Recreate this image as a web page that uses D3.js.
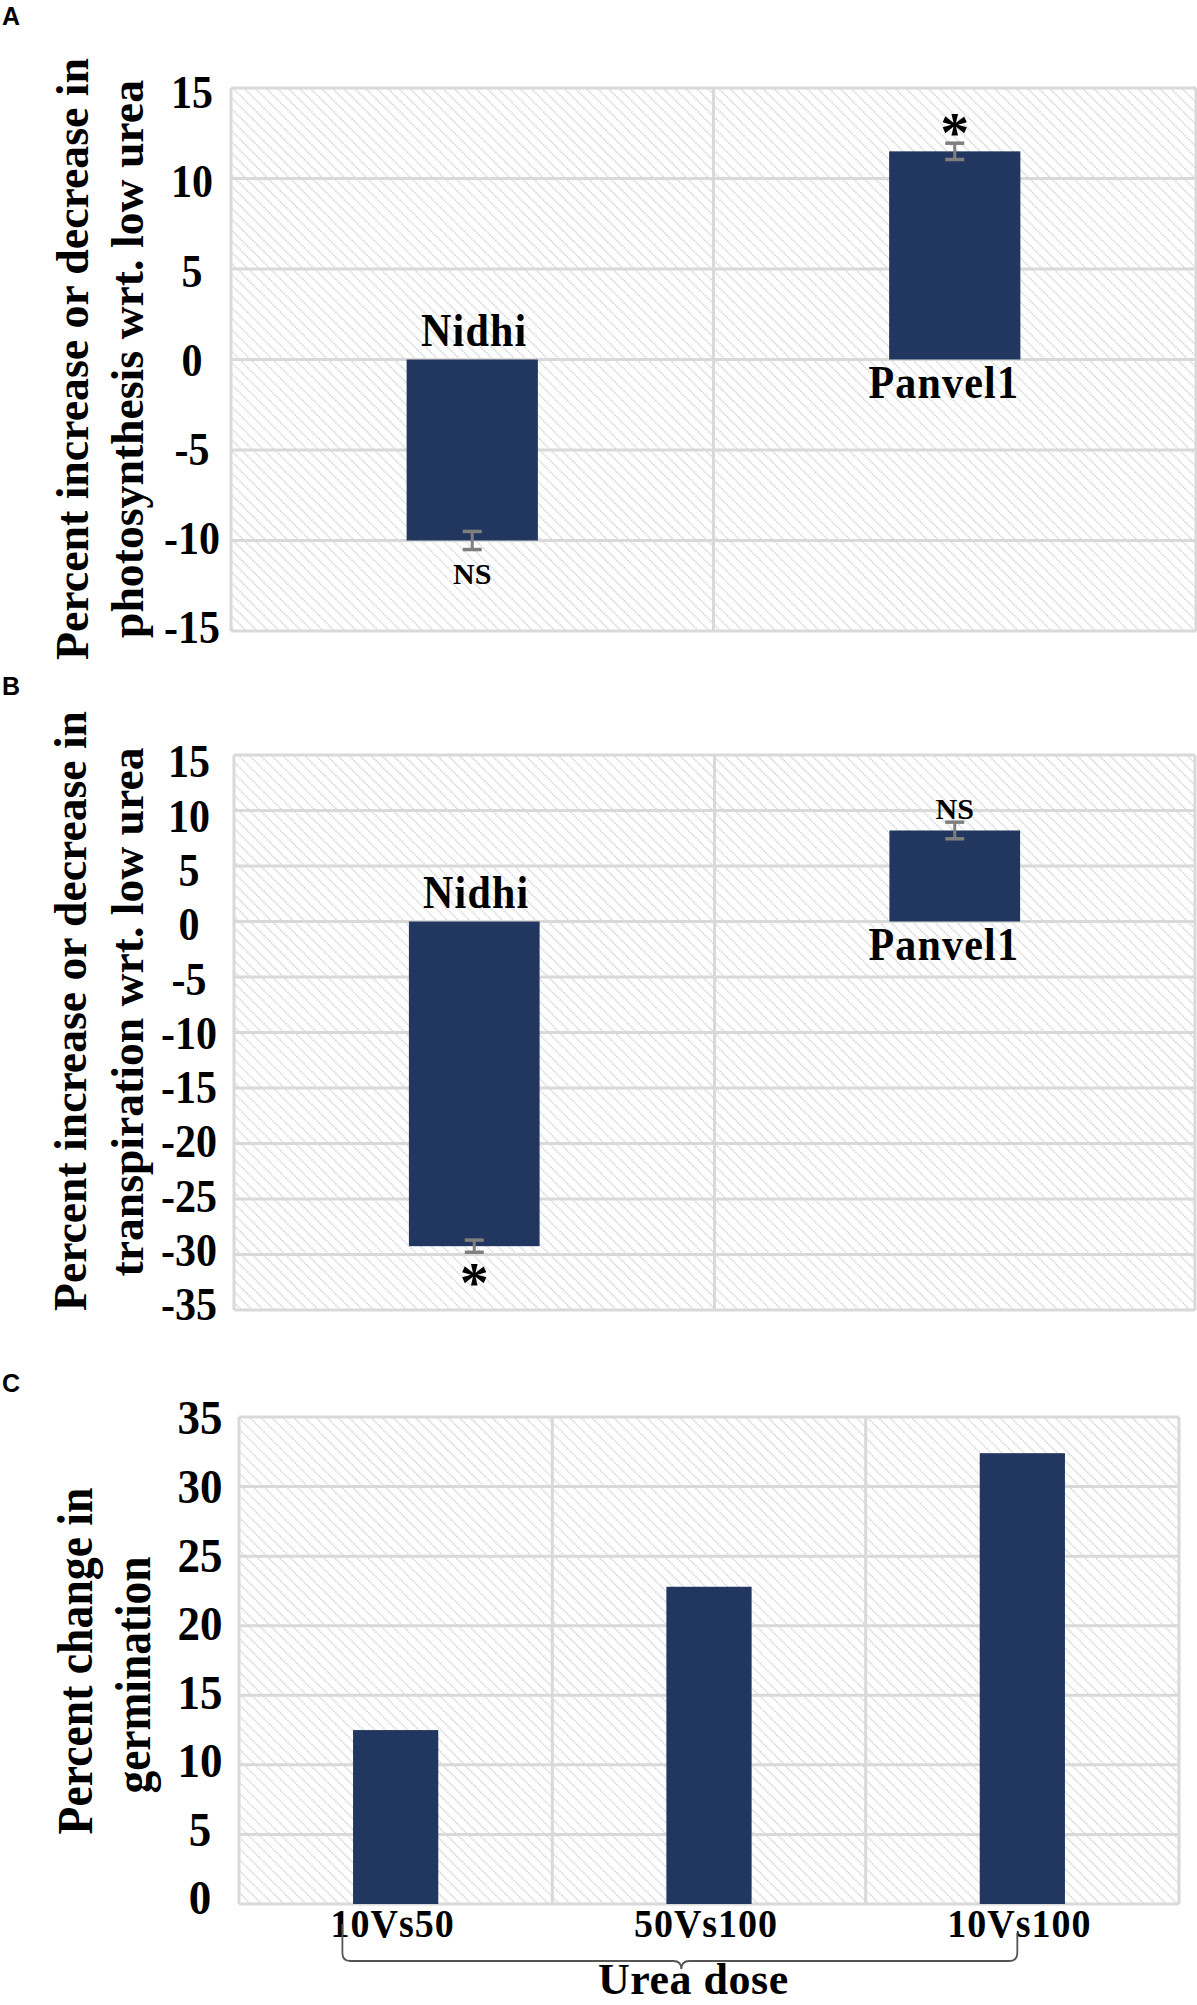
<!DOCTYPE html>
<html>
<head>
<meta charset="utf-8">
<script src="https://cdn.jsdelivr.net/npm/d3@7"></script>
<style>
  html, body { margin: 0; padding: 0; background: #ffffff; }
  svg { display: block; }
</style>
</head>
<body>
<script>
// ---------------- data ----------------
const genotypes = ["Nidhi", "Panvel1"];

const photoValues = [-10.0, 11.5];
const photoErrors = [0.5, 0.45];
const photoSig = ["NS", "*"];
const photoTicks = [15, 10, 5, 0, -5, -10, -15];
const photoTitle = ["Percent increase or decrease in", "photosynthesis wrt. low urea"];

const transValues = [-29.25, 8.2];
const transErrors = [0.55, 0.75];
const transSig = ["*", "NS"];
const transTicks = [15, 10, 5, 0, -5, -10, -15, -20, -25, -30, -35];
const transTitle = ["Percent increase or decrease in", "transpiration wrt. low urea"];

const doseCategories = ["10Vs50", "50Vs100", "10Vs100"];
const germValues = [12.5, 22.8, 32.4];
const germTicks = [0, 5, 10, 15, 20, 25, 30, 35];
const germTitle = ["Percent change in", "germination"];
const germXTitle = "Urea dose";

const panelLetters = ["A", "B", "C"];

// ---------------- styles ----------------
const W = 1197, H = 2005;
const serif = "'Liberation Serif', 'Times New Roman', serif";
const sans = "'Liberation Sans', Arial, sans-serif";
const barColor = "#21375f";
const gridColor = "#d9d9d9";
const errColor = "#7f7f7f";
const vStretch = 1.08;

const svg = d3.select("body").append("svg")
  .attr("width", W).attr("height", H)
  .attr("viewBox", `0 0 ${W} ${H}`);

const defs = svg.append("defs");
const pat = defs.append("pattern")
  .attr("id", "hatch")
  .attr("patternUnits", "userSpaceOnUse")
  .attr("width", 7.8).attr("height", 7.8)
  .attr("patternTransform", "rotate(-45)");
pat.append("rect").attr("width", 7.8).attr("height", 7.8).attr("fill", "#ffffff");
pat.append("line")
  .attr("x1", 1).attr("y1", 0).attr("x2", 1).attr("y2", 7.8)
  .attr("stroke", "#bdbdbd").attr("stroke-width", 1.3)
  .attr("stroke-dasharray", "1.3 1.3");

function drawPanel(opt) {
  const g = svg.append("g");
  const { left, right, top, bottom } = opt;

  const x = d3.scaleBand().domain(opt.categories).range([left, right])
    .paddingInner(0.728).paddingOuter(0.364);
  const step = x.step();
  const y = d3.scaleLinear().domain(opt.domain).range([bottom, top]);
  const yLab = d3.scaleLinear().domain(opt.domain).range([bottom + opt.labOff[1], top + opt.labOff[0]]);

  // background with hatch
  g.append("rect").attr("x", left).attr("y", top)
    .attr("width", right - left).attr("height", bottom - top)
    .attr("fill", "url(#hatch)");

  // horizontal gridlines
  g.selectAll("line.hgrid").data(opt.ticks).enter().append("line")
    .attr("class", "hgrid")
    .attr("x1", left).attr("x2", right)
    .attr("y1", d => y(d)).attr("y2", d => y(d))
    .attr("stroke", gridColor).attr("stroke-width", 3);

  // vertical gridlines at category boundaries
  const bounds = d3.range(opt.categories.length + 1).map(i => left + i * step);
  g.selectAll("line.vgrid").data(bounds).enter().append("line")
    .attr("class", "vgrid")
    .attr("x1", d => d).attr("x2", d => d)
    .attr("y1", top).attr("y2", bottom)
    .attr("stroke", gridColor).attr("stroke-width", 3);

  // tick labels
  g.selectAll("text.tick").data(opt.ticks).enter().append("text")
    .attr("class", "tick")
    .attr("transform", d => `translate(${opt.tickX},${yLab(d) + 0.338 * opt.tickSize * vStretch}) scale(1,${vStretch})`)
    .attr("text-anchor", "middle")
    .attr("font-family", serif).attr("font-weight", "bold")
    .attr("font-size", opt.tickSize)
    .text(d => d);

  // bars
  const data = opt.categories.map((c, i) => ({
    c, v: opt.values[i], e: opt.errors ? opt.errors[i] : null, s: opt.sig ? opt.sig[i] : null
  }));
  g.selectAll("rect.bar").data(data).enter().append("rect")
    .attr("class", "bar")
    .attr("x", d => x(d.c)).attr("width", x.bandwidth())
    .attr("y", d => Math.min(y(0), y(d.v)))
    .attr("height", d => Math.abs(y(d.v) - y(0)))
    .attr("fill", barColor);

  // error bars
  if (opt.errors) {
    const cx = d => x(d.c) + x.bandwidth() / 2;
    const eg = g.selectAll("g.err").data(data).enter().append("g").attr("class", "err");
    eg.append("line")
      .attr("x1", cx).attr("x2", cx)
      .attr("y1", d => y(d.v + d.e)).attr("y2", d => y(d.v - d.e))
      .attr("stroke", errColor).attr("stroke-width", 3);
    [1, -1].forEach(sgn => {
      eg.append("line")
        .attr("x1", d => cx(d) - 9.5).attr("x2", d => cx(d) + 9.5)
        .attr("y1", d => y(d.v + sgn * d.e)).attr("y2", d => y(d.v + sgn * d.e))
        .attr("stroke", errColor).attr("stroke-width", 3.5);
    });
    // significance marks
    g.selectAll("text.sig").data(data).enter().append("text")
      .attr("class", "sig")
      .attr("x", d => cx(d))
      .attr("y", d => {
        const pos = d.v >= 0;
        const tip = pos ? y(d.v + d.e) : y(d.v - d.e);
        if (d.s === "*") return pos ? tip + 9 : tip + 50;
        return pos ? tip - 3 : tip + 34;
      })
      .attr("text-anchor", "middle")
      .attr("font-family", serif)
      .attr("font-weight", "bold")
      .attr("font-size", d => d.s === "*" ? 58 : 30)
      .text(d => d.s);
  }

  // category labels inside plot (panels A and B)
  if (opt.inlineLabels) {
    g.selectAll("text.cat").data(data).enter().append("text")
      .attr("class", "cat")
      .attr("transform", d => {
        const tx = x(d.c) + x.bandwidth() / 2 + (d.v >= 0 ? -11 : 2);
        const ty = d.v >= 0 ? y(0) + 38 : y(0) - 14;
        return `translate(${tx},${ty}) scale(1,${vStretch})`;
      })
      .attr("text-anchor", "middle")
      .attr("font-family", serif).attr("font-weight", "bold")
      .attr("font-size", 42).attr("letter-spacing", 1.2)
      .text(d => d.c);
  } else {
    g.selectAll("text.cat").data(data).enter().append("text")
      .attr("class", "cat")
      .attr("transform", d => `translate(${x(d.c) + x.bandwidth() / 2 - 3},${bottom + 33}) scale(1,${vStretch})`)
      .attr("text-anchor", "middle")
      .attr("font-family", serif).attr("font-weight", "bold")
      .attr("font-size", 38).attr("letter-spacing", 1)
      .text(d => d.c);
  }

  // y title (two lines, rotated)
  opt.title.forEach((t, i) => {
    const tl = opt.titleLines[i];
    g.append("text")
      .attr("transform", `translate(${tl.x},${tl.cy}) rotate(-90)`)
      .attr("text-anchor", "middle")
      .attr("font-family", serif).attr("font-weight", "bold")
      .attr("font-size", opt.titleSize)
      .attr("textLength", tl.len).attr("lengthAdjust", "spacingAndGlyphs")
      .text(t);
  });

  // panel letter
  g.append("text")
    .attr("x", 2).attr("y", opt.letterY)
    .attr("font-family", sans).attr("font-weight", "bold")
    .attr("font-size", 25)
    .text(opt.letter);

  return { g, x, y, step };
}

drawPanel({
  letter: panelLetters[0], letterY: 25,
  categories: genotypes, values: photoValues, errors: photoErrors, sig: photoSig,
  domain: [-15, 15], ticks: photoTicks,
  left: 231, right: 1196, top: 88, bottom: 631,
  tickX: 192, tickSize: 42, labOff: [5, -3],
  inlineLabels: true,
  title: photoTitle, titleSize: 47,
  titleLines: [{ x: 88, cy: 359, len: 602 }, { x: 143, cy: 359, len: 558 }]
});

drawPanel({
  letter: panelLetters[1], letterY: 695,
  categories: genotypes, values: transValues, errors: transErrors, sig: transSig,
  domain: [-35, 15], ticks: transTicks,
  left: 234, right: 1195, top: 755, bottom: 1310,
  tickX: 189, tickSize: 42, labOff: [7, -5],
  inlineLabels: true,
  title: transTitle, titleSize: 47,
  titleLines: [{ x: 86, cy: 1011, len: 600 }, { x: 143, cy: 1012, len: 529 }]
});

const pc = drawPanel({
  letter: panelLetters[2], letterY: 1392,
  categories: doseCategories, values: germValues, errors: null, sig: null,
  domain: [0, 35], ticks: germTicks,
  left: 239, right: 1179, top: 1417, bottom: 1904,
  tickX: 200, tickSize: 45, labOff: [1, -6],
  inlineLabels: false,
  title: germTitle, titleSize: 50,
  titleLines: [{ x: 92, cy: 1661, len: 347 }, { x: 150, cy: 1675, len: 237 }]
});

// curly brace under the dose labels
(function () {
  const x = pc.x, step = pc.step;
  const c0 = x(doseCategories[0]) + x.bandwidth() / 2;
  const c2 = x(doseCategories[2]) + x.bandwidth() / 2;
  const xl = c0 - 0.17 * step, xr = c2 - 0.016 * step, xm = (xl + xr) / 2 + 1.5;
  const yh = 1961, r = 8;
  const path = d3.path();
  path.moveTo(xl, 1924);
  path.lineTo(xl, yh - r);
  path.quadraticCurveTo(xl, yh, xl + r, yh);
  path.lineTo(xm - r, yh);
  path.quadraticCurveTo(xm, yh, xm, yh + r);
  path.quadraticCurveTo(xm, yh, xm + r, yh);
  path.lineTo(xr - r, yh);
  path.quadraticCurveTo(xr, yh, xr, yh - r);
  path.lineTo(xr, 1933);
  svg.append("path").attr("d", path.toString())
    .attr("fill", "none").attr("stroke", "#555555").attr("stroke-width", 1.8);

  svg.append("text")
    .attr("x", xm + 12).attr("y", 1994)
    .attr("text-anchor", "middle")
    .attr("font-family", serif).attr("font-weight", "bold")
    .attr("font-size", 44).attr("letter-spacing", 0.5)
    .text(germXTitle);
})();
</script>
</body>
</html>
